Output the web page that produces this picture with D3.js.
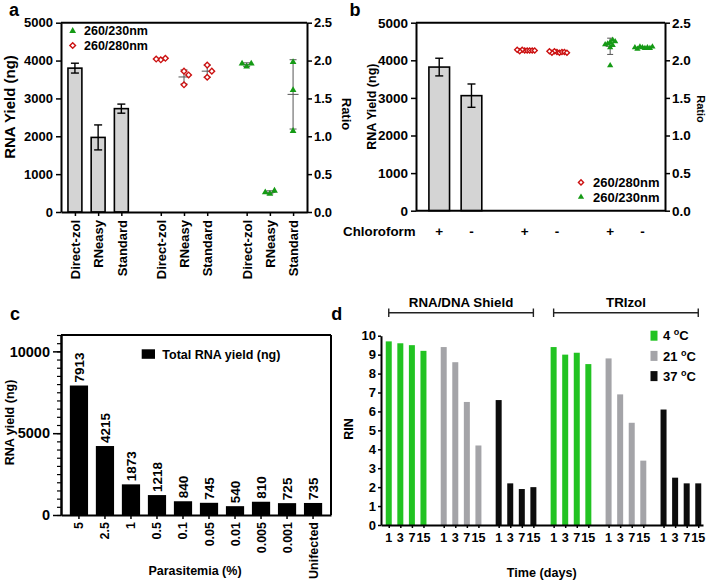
<!DOCTYPE html>
<html><head><meta charset="utf-8">
<script src="https://cdn.jsdelivr.net/npm/d3@7"></script>
<style>
html,body{margin:0;padding:0;background:#fff;}
svg text{font-family:'Liberation Sans',Arial,Helvetica,sans-serif;font-weight:bold;fill:#000;}
</style></head>
<body>
<svg id="fig" width="709" height="583"></svg>
<script>
// ---------- DATA ----------
// panel a
const aCats = ["Direct-zol", "RNeasy", "Standard"];
const aYield = [3800, 1970, 2730];
const aYieldSD = [130, 330, 120];
const a280 = [[2.01, 2.03, 2.02], [1.86, 1.81, 1.68], [1.94, 1.78, 1.86]];
const a230 = [[1.92, 1.96, 1.96], [0.24, 0.28, 0.26], [1.98, 1.61, 1.07]];
const aYTicks = [0, 1000, 2000, 3000, 4000, 5000];
const aRTicks = [0, 0.5, 1.0, 1.5, 2.0, 2.5];
// panel b
const bCats = ["+", "-"];
const bYield = [3820, 3060];
const bYieldSD = [235, 310];
const b280 = [[2.13, 2.13, 2.14, 2.13, 2.12, 2.13, 2.14, 2.13], [2.11, 2.10, 2.12, 2.11, 2.10, 2.11, 2.12, 2.10]];
const b230 = [[2.17, 2.24, 2.27, 2.22, 2.25, 2.20, 2.21, 1.93], [2.17, 2.16, 2.18, 2.17, 2.15, 2.16, 2.17, 2.18]];
// panel c
const cCats = ["5", "2.5", "1", "0.5", "0.1", "0.05", "0.01", "0.005", "0.001", "Unifected"];
const cYield = [7913, 4215, 1873, 1218, 840, 745, 540, 810, 725, 735];
const cTicks = [0, 5000, 10000];
// panel d
const dGroups = ["RNA/DNA Shield", "TRIzol"];
const dTemps = ["4", "21", "37"];
const dDays = ["1", "3", "7", "15"];
const dShield = [[9.7, 9.6, 9.5, 9.2], [9.4, 8.6, 6.5, 4.2], [6.6, 2.2, 1.9, 2.0]];
const dTrizol = [[9.4, 9.0, 9.1, 8.5], [8.8, 6.9, 5.4, 3.4], [6.1, 2.5, 2.2, 2.2]];
const dTicks = [0, 1, 2, 3, 4, 5, 6, 7, 8, 9, 10];

// ---------- STYLE ----------
const GREEN_PT = "#159a15", RED_PT = "#cc1111";
const D_COLORS = ["#22c322", "#a4a4a8", "#0d0d0d"];
const svg = d3.select("#fig");
svg.append("rect").attr("width", 709).attr("height", 583).attr("fill", "#fff");
const fmtInt = d3.format("d");

function styleAxis(g, fs) {
  g.select(".domain").attr("stroke", "#000").attr("stroke-width", 2);
  g.selectAll(".tick line").attr("stroke", "#000").attr("stroke-width", 1.5);
  g.selectAll(".tick text").style("font-size", fs + "px");
}
function mean(a) { return d3.mean(a); }
function sd(a) { return d3.deviation(a); }
// simple beeswarm offsets
function swarm(vals, yScale, step, minDy) {
  const placed = [];
  return vals.map(v => {
    const py = yScale(v);
    const cands = [0];
    for (let k = 1; k < 12; k++) { cands.push(k * step, -k * step); }
    for (const dx of cands) {
      if (!placed.some(p => Math.abs(p.dx - dx) < step * 0.9 && Math.abs(p.py - py) < minDy)) {
        placed.push({dx, py}); return dx;
      }
    }
    return 0;
  });
}
const triPath = d3.symbol().type(d3.symbolTriangle);
const diaPath = d3.symbol().type(d3.symbolSquare);
function drawTri(g, x, y, size) {
  g.append("path").attr("d", triPath.size(size)()).attr("transform", `translate(${x},${y})`).attr("fill", GREEN_PT);
}
function drawDia(g, x, y, size) {
  g.append("path").attr("d", diaPath.size(size)()).attr("transform", `translate(${x},${y}) rotate(45)`)
    .attr("fill", "#fff").attr("stroke", RED_PT).attr("stroke-width", 1.4);
}
function errBar(g, x, y1, y2, ym, cap, color, w, mid) {
  g.append("line").attr("x1", x).attr("x2", x).attr("y1", y1).attr("y2", y2).attr("stroke", color).attr("stroke-width", w);
  [y1, y2].forEach(yy => g.append("line").attr("x1", x - cap / 2).attr("x2", x + cap / 2).attr("y1", yy).attr("y2", yy).attr("stroke", color).attr("stroke-width", w));
  if (mid) g.append("line").attr("x1", x - mid / 2).attr("x2", x + mid / 2).attr("y1", ym).attr("y2", ym).attr("stroke", color).attr("stroke-width", w);
}
function label(txt, x, y, fs, anchor, rot) {
  return svg.append("text").attr("transform", `translate(${x},${y})` + (rot ? ` rotate(${rot})` : ""))
    .attr("text-anchor", anchor || "middle").style("font-size", fs + "px").text(txt);
}

// ---------- PANEL A ----------
(function () {
  const g = svg.append("g");
  const yL = d3.scaleLinear([0, 5000], [212, 22.7]);
  const yR = d3.scaleLinear([0, 2.5], [212, 22.7]);
  const x = d3.scaleLinear([-0.6, 10], [61, 307]);
  const GROUP = 3.7;
  const slots = [], names = [];
  for (let gi = 0; gi < 3; gi++) aCats.forEach((c, i) => { slots.push(gi * GROUP + i); names.push(c); });
  const bw = x(0.6) - x(0);
  aYield.forEach((v, i) => {
    g.append("rect").attr("x", x(i) - bw / 2).attr("y", yL(v)).attr("width", bw).attr("height", yL(0) - yL(v))
      .attr("fill", "#d4d4d4").attr("stroke", "#000").attr("stroke-width", 1.6);
    errBar(g, x(i), yL(v + aYieldSD[i]), yL(v - aYieldSD[i]), 0, 8, "#000", 1.4, 0);
  });
  const sets = [[a280, 1, "dia"], [a230, 2, "tri"]];
  sets.forEach(([data, gi, kind]) => {
    data.forEach((vals, i) => {
      const cx = x(gi * GROUP + i);
      const m = mean(vals), s = sd(vals);
      errBar(g, cx, yR(m + s), yR(m - s), yR(m), 7, "#555", 1, 11);
      const offs = swarm(vals, yR, 4.6, 6.5);
      vals.forEach((v, k) => kind === "dia" ? drawDia(g, cx + offs[k], yR(v), 16) : drawTri(g, cx + offs[k], yR(v), 20));
    });
  });
  const gl = g.append("g").attr("transform", "translate(61,0)")
    .call(d3.axisLeft(yL).tickValues(aYTicks).tickFormat(fmtInt).tickSize(5).tickSizeOuter(0).tickPadding(3));
  styleAxis(gl, 13);
  const gr = g.append("g").attr("transform", "translate(307,0)")
    .call(d3.axisRight(yR).tickValues(aRTicks).tickFormat(d3.format(".1f")).tickSize(5).tickSizeOuter(0).tickPadding(2));
  styleAxis(gr, 13);
  g.append("line").attr("x1", 61).attr("x2", 307).attr("y1", 22.7).attr("y2", 22.7).attr("stroke", "#000").attr("stroke-width", 2);
  const gb = g.append("g").attr("transform", "translate(0,212)")
    .call(d3.axisBottom(x).tickValues(slots).tickFormat((d, i) => names[i]).tickSize(4).tickSizeOuter(0));
  styleAxis(gb, 13);
  gb.selectAll(".tick text").attr("transform", "rotate(-90)").attr("text-anchor", "end").attr("x", -8).attr("y", 0).attr("dy", "0.36em");
  drawTri(g, 72.7, 31, 20); label("260/230nm", 84, 35.4, 12.5, "start");
  drawDia(g, 72.7, 45.5, 16); label("260/280nm", 84, 49.9, 12.5, "start");
  label("RNA Yield (ng)", 14.5, 107, 15, "middle", -90);
  label("Ratio", 342, 114, 13, "middle", 90);
  label("a", 14, 16, 18, "middle");
})();

// ---------- PANEL B ----------
(function () {
  const g = svg.append("g");
  const yL = d3.scaleLinear([0, 5000], [210.7, 22.7]);
  const yR = d3.scaleLinear([0, 2.5], [210.7, 22.7]);
  const x = d3.scaleLinear([-0.72, 7.0], [416, 665]);
  const GROUP = 2.65;
  const slots = [], names = [];
  for (let gi = 0; gi < 3; gi++) bCats.forEach((c, i) => { slots.push(gi * GROUP + i); names.push(c); });
  const bw = x(0.64) - x(0);
  bYield.forEach((v, i) => {
    g.append("rect").attr("x", x(i) - bw / 2).attr("y", yL(v)).attr("width", bw).attr("height", yL(0) - yL(v))
      .attr("fill", "#d4d4d4").attr("stroke", "#000").attr("stroke-width", 1.6);
    errBar(g, x(i), yL(v + bYieldSD[i]), yL(v - bYieldSD[i]), 0, 8, "#000", 1.4, 0);
  });
  [[b280, 1, "dia"], [b230, 2, "tri"]].forEach(([data, gi, kind]) => {
    data.forEach((vals, i) => {
      const cx = x(gi * GROUP + i);
      const m = mean(vals), s = sd(vals);
      errBar(g, cx, yR(m + s), yR(m - s), yR(m), 6, "#555", 1, 9);
      const offs = swarm(vals, yR, 2.5, 5);
      vals.forEach((v, k) => kind === "dia" ? drawDia(g, cx + offs[k], yR(v), 13) : drawTri(g, cx + offs[k], yR(v), 17));
    });
  });
  const gl = g.append("g").attr("transform", "translate(416,0)")
    .call(d3.axisLeft(yL).tickValues(aYTicks).tickFormat(fmtInt).tickSize(5).tickSizeOuter(0).tickPadding(3));
  styleAxis(gl, 13.5);
  const gr = g.append("g").attr("transform", "translate(665,0)")
    .call(d3.axisRight(yR).tickValues(aRTicks).tickFormat(d3.format(".1f")).tickSize(5).tickSizeOuter(0).tickPadding(2));
  styleAxis(gr, 13.5);
  g.append("line").attr("x1", 416).attr("x2", 665).attr("y1", 22.7).attr("y2", 22.7).attr("stroke", "#000").attr("stroke-width", 2);
  g.append("line").attr("x1", 416).attr("x2", 665).attr("y1", 210.7).attr("y2", 210.7).attr("stroke", "#000").attr("stroke-width", 2);
  slots.forEach((s, i) => label(names[i], x(s), 235.5, 13.5, "middle"));
  label("Chloroform", 415.5, 235.5, 13.3, "end");
  drawDia(g, 581, 182.4, 13); label("260/280nm", 593, 187, 13, "start");
  drawTri(g, 581, 197, 17); label("260/230nm", 593, 201.6, 13, "start");
  label("RNA Yield (ng)", 375.5, 106.7, 12.5, "middle", -90);
  label("Ratio", 697, 109, 11, "middle", 90);
  label("b", 355, 16, 18, "middle");
})();

// ---------- PANEL C ----------
(function () {
  const g = svg.append("g");
  const y = d3.scaleLinear([0, 11000], [515, 335]);
  const x = d3.scaleBand(cCats, [61, 331]).paddingInner(0.3).paddingOuter(0.34);
  cYield.forEach((v, i) => {
    const cx = x(cCats[i]);
    g.append("rect").attr("x", cx).attr("y", y(v)).attr("width", x.bandwidth()).attr("height", y(0) - y(v)).attr("fill", "#000");
    label(String(v), cx + x.bandwidth() / 2 + 4.8, y(v) - 3, 13.5, "start", -90);
  });
  const gm = g.append("g").attr("transform", "translate(61,0)")
    .call(d3.axisLeft(y).tickValues(d3.range(0, 11001, 500)).tickSize(4).tickFormat("").tickSizeOuter(0));
  styleAxis(gm, 13); gm.selectAll(".tick line").attr("stroke-width", 1.2);
  const gl = g.append("g").attr("transform", "translate(61,0)")
    .call(d3.axisLeft(y).tickValues(cTicks).tickSize(8).tickSizeOuter(0).tickPadding(3).tickFormat(fmtInt));
  styleAxis(gl, 14.5);
  g.append("line").attr("x1", 61).attr("x2", 331).attr("y1", 335).attr("y2", 335).attr("stroke", "#000").attr("stroke-width", 2);
  g.append("line").attr("x1", 331).attr("x2", 331).attr("y1", 335).attr("y2", 515).attr("stroke", "#000").attr("stroke-width", 2);
  const gb = g.append("g").attr("transform", "translate(0,515)")
    .call(d3.axisBottom(x).tickSize(4).tickSizeOuter(0));
  styleAxis(gb, 12.5);
  gb.selectAll(".tick text").attr("transform", "rotate(-90)").attr("text-anchor", "end").attr("x", -7).attr("y", 0).attr("dy", "0.36em");
  g.append("rect").attr("x", 141.7).attr("y", 349.3).attr("width", 13.3).attr("height", 9.5).attr("fill", "#000");
  label("Total RNA yield (ng)", 162.3, 358.5, 12.5, "start");
  label("Parasitemia (%)", 195, 575, 12.5, "middle");
  label("RNA yield (ng)", 14, 422.5, 12.5, "middle", -90);
  label("c", 15, 320, 18, "middle");
})();

// ---------- PANEL D ----------
(function () {
  const g = svg.append("g");
  const y = d3.scaleLinear([0, 10], [525, 335.7]);
  const x = d3.scaleLinear([-0.67, 27.16], [381, 703]);
  const GROUP = 4.75;
  const bw = 6;
  const all = [dShield, dTrizol];
  const slots = [], names = [];
  all.forEach((grp, gi) => grp.forEach((vals, ti) => vals.forEach((v, di) => {
    const s = (gi * 3 + ti) * GROUP + di;
    slots.push(s); names.push(dDays[di]);
    g.append("rect").attr("x", x(s) - bw / 2).attr("y", y(v)).attr("width", bw).attr("height", y(0) - y(v)).attr("fill", D_COLORS[ti]);
  })));
  const gl = g.append("g").attr("transform", "translate(381,0)")
    .call(d3.axisLeft(y).tickValues(dTicks).tickSize(3).tickSizeOuter(0).tickPadding(2));
  styleAxis(gl, 13);
  const gb = g.append("g").attr("transform", "translate(0,525)")
    .call(d3.axisBottom(x).tickValues(slots).tickFormat("").tickSize(3).tickSizeOuter(0));
  styleAxis(gb, 13);
  slots.forEach((s, i) => label(names[i], x(s), 542, 12.6, "middle"));
  dGroups.forEach((name, gi) => {
    const x1 = x(gi * 3 * GROUP), x2 = x((gi * 3 + 2) * GROUP + 3);
    g.append("line").attr("x1", x1).attr("x2", x2).attr("y1", 312.7).attr("y2", 312.7).attr("stroke", "#222").attr("stroke-width", 1.4);
    [x1, x2].forEach(xx => g.append("line").attr("x1", xx).attr("x2", xx).attr("y1", 308.5).attr("y2", 317).attr("stroke", "#222").attr("stroke-width", 1.4));
    label(name, (x1 + x2) / 2, 307, 13.3, "middle");
  });
  dTemps.forEach((t, i) => {
    const cy = 335.7 + i * 20.2;
    g.append("rect").attr("x", 650.5).attr("y", cy - 5).attr("width", 7).attr("height", 10).attr("fill", D_COLORS[i]);
    const tx = svg.append("text").attr("x", 663).attr("y", cy + 4.6).style("font-size", "13px");
    tx.append("tspan").text(t + " ");
    tx.append("tspan").attr("dy", -5).style("font-size", "9px").text("o");
    tx.append("tspan").attr("dy", 5).text("C");
  });
  label("Time (days)", 541.7, 577, 12.6, "middle");
  label("RIN", 353, 429, 12.5, "middle", -90);
  label("d", 336.7, 320, 18, "middle");
})();
</script>
</body></html>
